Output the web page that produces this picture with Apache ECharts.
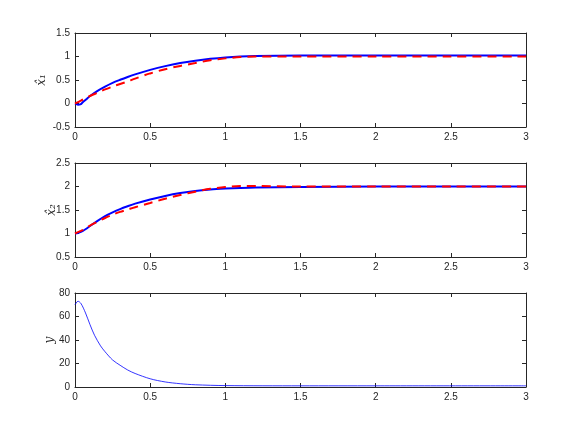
<!DOCTYPE html>
<html>
<head>
<meta charset="utf-8">
<script src="https://cdn.jsdelivr.net/npm/echarts@6/dist/echarts.min.js"></script>
<style>
  html, body { margin: 0; padding: 0; background: #fff; }
  #chart { width: 581px; height: 436px; }
</style>
</head>
<body>
<div id="chart"></div>
<script>
// time samples for the state estimates
var tState = [0, 0.02, 0.035, 0.05, 0.075, 0.1, 0.15, 0.2, 0.25, 0.3, 0.35, 0.4, 0.5, 0.6, 0.7, 0.8, 0.9, 1.0, 1.1, 1.2, 1.5, 2.0, 2.5, 3.0];
var x1Hat  = [0, -0.025, -0.02, 0.02, 0.09, 0.16, 0.27, 0.36, 0.44, 0.505, 0.565, 0.62, 0.715, 0.795, 0.86, 0.91, 0.95, 0.98, 1.0, 1.01, 1.02, 1.02, 1.02, 1.02];
var x1Ref  = [0, 0.03, 0.055, 0.08, 0.12, 0.16, 0.23, 0.3, 0.36, 0.415, 0.47, 0.53, 0.64, 0.73, 0.8, 0.86, 0.92, 0.96, 0.99, 1.0, 1.0, 1.0, 1.0, 1.0];
var x2Hat  = [1.0, 1.01, 1.03, 1.05, 1.1, 1.16, 1.27, 1.37, 1.45, 1.52, 1.58, 1.635, 1.725, 1.8, 1.86, 1.905, 1.935, 1.955, 1.97, 1.98, 1.99, 2.0, 2.0, 2.0];
var x2Ref  = [1.0, 1.03, 1.05, 1.07, 1.12, 1.17, 1.25, 1.33, 1.4, 1.46, 1.51, 1.56, 1.65, 1.74, 1.82, 1.89, 1.95, 1.99, 2.01, 2.01, 2.0, 2.0, 2.0, 2.0];

// time samples for the output
var tOut = [0, 0.02, 0.04, 0.07, 0.1, 0.13, 0.17, 0.2, 0.25, 0.3, 0.35, 0.4, 0.5, 0.6, 0.7, 0.8, 1.0, 1.5, 2.0, 3.0];
var yOut = [70, 73, 71, 63, 53, 44, 35, 30, 23, 18.5, 14.5, 11.5, 7, 4.3, 2.8, 1.9, 1.2, 1.0, 1.0, 1.0];

var yNames = ['x\u0302\u2081', 'x\u0302\u2082', 'y'];
var yRanges = [[-0.5, 1.5, 0.5], [0.5, 2.5, 0.5], [0, 80, 20]];
var nameGaps = [27, 17, 19];

function pairs(t, v) {
    return t.map(function (x, i) { return [x, v[i]]; });
}

var axisColor = '#262626';
var tops = [33, 163, 293];
var grids = [], xAxes = [], yAxes = [];

tops.forEach(function (top, i) {
    grids.push({ left: 75, right: 55, top: top, height: 94, show: false });
    var common = {
        gridIndex: i,
        axisLine: { show: true, onZero: false, lineStyle: { color: axisColor, width: 1 } },
        axisTick: { show: true, inside: true, length: 4, lineStyle: { color: axisColor } },
        splitLine: { show: false }
    };
    xAxes.push(Object.assign({}, common, {
        type: 'value', min: 0, max: 3, interval: 0.5, position: 'bottom',
        axisLabel: { color: axisColor, fontSize: 10, fontFamily: 'Liberation Sans', margin: 5 }
    }));
    xAxes.push(Object.assign({}, common, {
        type: 'value', min: 0, max: 3, interval: 0.5, position: 'top',
        axisLabel: { show: false }
    }));
    var r = yRanges[i];
    yAxes.push(Object.assign({}, common, {
        type: 'value', min: r[0], max: r[1], interval: r[2], position: 'left',
        name: yNames[i], nameLocation: 'middle', nameRotate: 90, nameGap: nameGaps[i],
        nameMoveOverlap: false,
        nameTextStyle: { color: axisColor, fontSize: 12, fontFamily: 'DejaVu Serif', fontStyle: 'italic' },
        axisLabel: { color: axisColor, fontSize: 10, fontFamily: 'Liberation Sans', margin: 5 }
    }));
    yAxes.push(Object.assign({}, common, {
        type: 'value', min: r[0], max: r[1], interval: r[2], position: 'right',
        axisLabel: { show: false }
    }));
});

function line(data, xi, yi, color, width, type) {
    return {
        type: 'line', data: data, xAxisIndex: xi, yAxisIndex: yi,
        showSymbol: false, smooth: 0.3, animation: false,
        lineStyle: { color: color, width: width, type: type }
    };
}

var option = {
    backgroundColor: '#fff',
    animation: false,
    grid: grids,
    xAxis: xAxes,
    yAxis: yAxes,
    series: [
        line(pairs(tState, x1Hat), 0, 0, '#0000ff', 2, 'solid'),
        line(pairs(tState, x1Ref), 0, 0, '#ff0000', 2, [9, 6]),
        line(pairs(tState, x2Hat), 2, 2, '#0000ff', 2, 'solid'),
        line(pairs(tState, x2Ref), 2, 2, '#ff0000', 2, [9, 6]),
        line(pairs(tOut, yOut), 4, 4, '#0000ff', 0.8, 'solid')
    ]
};

echarts.init(document.getElementById('chart')).setOption(option);
</script>
</body>
</html>
